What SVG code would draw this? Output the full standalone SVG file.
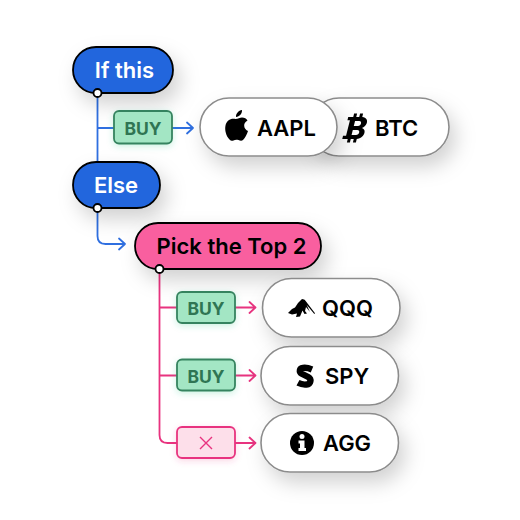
<svg xmlns="http://www.w3.org/2000/svg" width="520" height="520" viewBox="0 0 520 520">
<style>
text{font-family:Inter,"Liberation Sans",sans-serif;font-weight:600;text-anchor:middle}
.cond{stroke:#000;stroke-width:1.800}
.blue{fill:#2166dd}
.pink{fill:#f95f9f}
.ct{font-size:22px}
.asset{fill:#fff;stroke:#8c8c8c;stroke-width:1.600}
.at{font-size:22px;fill:#000;text-anchor:start}
.buy{fill:#a3e6c4;stroke:#36835f;stroke-width:1.800}
.bt{font-size:17.500px;fill:#2f7553;font-weight:700}
.no{fill:#fddfea;stroke:#e8337f;stroke-width:1.800}
.dot{fill:#fff;stroke:#000;stroke-width:1.800}
.lb{fill:none;stroke:#2f6fe0;stroke-width:1.800;stroke-linecap:round;stroke-linejoin:round}
.lp{fill:none;stroke:#e8337f;stroke-width:1.800;stroke-linecap:round;stroke-linejoin:round}
</style>
<defs>
<filter id="sh" x="-30%" y="-50%" width="170%" height="250%"><feDropShadow dx="6" dy="10" stdDeviation="10" flood-color="#000" flood-opacity=".18"/></filter>
<filter id="sg" x="-30%" y="-30%" width="160%" height="170%"><feDropShadow dx="0" dy="2" stdDeviation="3" flood-color="#36c98a" flood-opacity=".25"/></filter>
<filter id="sp" x="-30%" y="-30%" width="160%" height="170%"><feDropShadow dx="0" dy="2" stdDeviation="3" flood-color="#e8337f" flood-opacity=".2"/></filter>
</defs>
<g id="connectors">
<path class="lb" d="M97.500 93V162M97.500 128H114M172 128H192.500M187 122.500L193 128L187 133.500"/>
<path class="lb" d="M97.500 208V236Q97.500 244 105.500 244H124.500M119 238.500L125 244L119 249.500"/>
<path class="lp" d="M159.500 269V435Q159.500 443 167.500 443H177M159.500 307.500H177M159.500 375.500H177"/>
<path class="lp" d="M235 307.500H255M249.500 302L255.500 307.500L249.500 313M235 375.500H255M249.500 370L255.500 375.500L249.500 381M235 443H255M249.500 437.500L255.500 443L249.500 448.500"/>
</g>
<g id="if-this"><rect class="cond blue" x="73" y="47" width="100" height="46" rx="23" filter="url(#sh)"/><text class="ct" x="124.500" y="78" fill="#fff">If this</text><circle class="dot" cx="97.500" cy="93" r="4"/></g>
<g id="buy-aapl"><rect class="buy" x="114" y="111" width="58" height="32.500" rx="5" filter="url(#sg)"/><text class="bt" x="143" y="134.500">BUY</text></g>
<g id="btc"><rect class="asset" x="310" y="98" width="139" height="58" rx="29" filter="url(#sh)"/><path transform="translate(355.500 128) skewX(-14)" fill="#000" fill-rule="evenodd" d="M-10 -11H-5V-14.500H-2V-11H1V-14.500H4V-11C8.500 -10.500 10.500 -7.500 10 -4.500C9.600 -2.300 8.300 -0.800 6.500 0C9.300 1 10.600 3.200 10.100 6C9.500 9.200 7 10.800 4 11V14.500H1V11H-2V14.500H-5V11H-10.500V7.800H-7.500V-7.800H-10ZM-2.200 -7V-2H2C5.200 -2 5.200 -7 2 -7ZM-2.200 2V7H2.200C5.700 7 5.700 2 2.200 2Z"/><text class="at" x="375" y="136">BTC</text></g>
<g id="aapl"><rect class="asset" x="200" y="98" width="137" height="58" rx="29" filter="url(#sh)"/><path d="M235.500 119C238 119 240 117.500 242 117.500C244.500 117.500 246.500 118.800 247.500 120.500C245 122 244 124 244.200 126C244.400 128.500 246 130 248 131C247 134.500 245 138 243 140C241.500 141.300 240 140.600 238.500 140.100C236.500 139.500 235 139.800 233.500 140.400C232 141 230.800 141 229.500 139.600C226 135.800 224.500 130 225.500 125.500C226.500 120.500 231 117.800 235.500 119ZM236 117C235.800 113.500 238.500 110.500 242 110C242.300 113.500 239.500 116.800 236 117Z" fill="#000"/><text class="at" x="257" y="136">AAPL</text></g>
<g id="else"><rect class="cond blue" x="73" y="162" width="87" height="46" rx="23" filter="url(#sh)"/><text class="ct" x="116" y="193" fill="#fff">Else</text><circle class="dot" cx="97.500" cy="208" r="4"/></g>
<g id="pick"><rect class="cond pink" x="135" y="223" width="186" height="46" rx="23" filter="url(#sh)"/><text class="ct" x="231.500" y="254" fill="#000">Pick the Top 2</text><circle class="dot" cx="159.500" cy="269" r="4"/></g>
<g id="buy-qqq"><rect class="buy" x="177" y="292" width="58" height="31" rx="5" filter="url(#sg)"/><text class="bt" x="206" y="314.500">BUY</text></g>
<g id="buy-spy"><rect class="buy" x="177" y="359.500" width="58" height="31" rx="5" filter="url(#sg)"/><text class="bt" x="206" y="382.500">BUY</text></g>
<g id="no-agg"><rect class="no" x="177" y="427" width="58" height="31" rx="5" filter="url(#sp)"/><path d="M200 437L212 449M212 437L200 449" fill="none" stroke="#e8337f" stroke-width="1.400"/></g>
<g id="qqq"><rect class="asset" x="262.500" y="278.500" width="137.500" height="58.500" rx="29" filter="url(#sh)"/><path d="M288 313L292 309L295 307.500L298 303L302 299L304 299.500L306.500 304.500L309 310L310 312L306 307L305 311L307 313.500L304.500 314L302.500 310.500L300 316.500L296 317L297 313.500L292 314.500ZM304.500 299.500L315 313.300L314.300 314L303.500 301Z" fill="#000"/><text class="at" x="322" y="316">QQQ</text></g>
<g id="spy"><rect class="asset" x="261" y="346.500" width="137.500" height="58.500" rx="29" filter="url(#sh)"/><path d="M312 369.500C308 367.800 305 367.600 303 367.900C299.300 368.400 298.800 372 301.800 373.800L308.200 377C311.700 379 311 384 306.500 384.500C303.500 384.800 300.800 384.300 298 382.800" fill="none" stroke="#000" stroke-width="6.400"/><text class="at" x="325" y="384">SPY</text></g>
<g id="agg"><rect class="asset" x="261" y="413.500" width="137.500" height="58.500" rx="29" filter="url(#sh)"/><circle cx="302" cy="443" r="12" fill="#000"/><circle cx="302" cy="436.500" r="2.500" fill="#fff"/><path d="M298.500 440.500H304.500V448H306V451H298.500V448H300V443.500H298.500Z" fill="#fff"/><text class="at" x="323" y="451">AGG</text></g>
</svg>
